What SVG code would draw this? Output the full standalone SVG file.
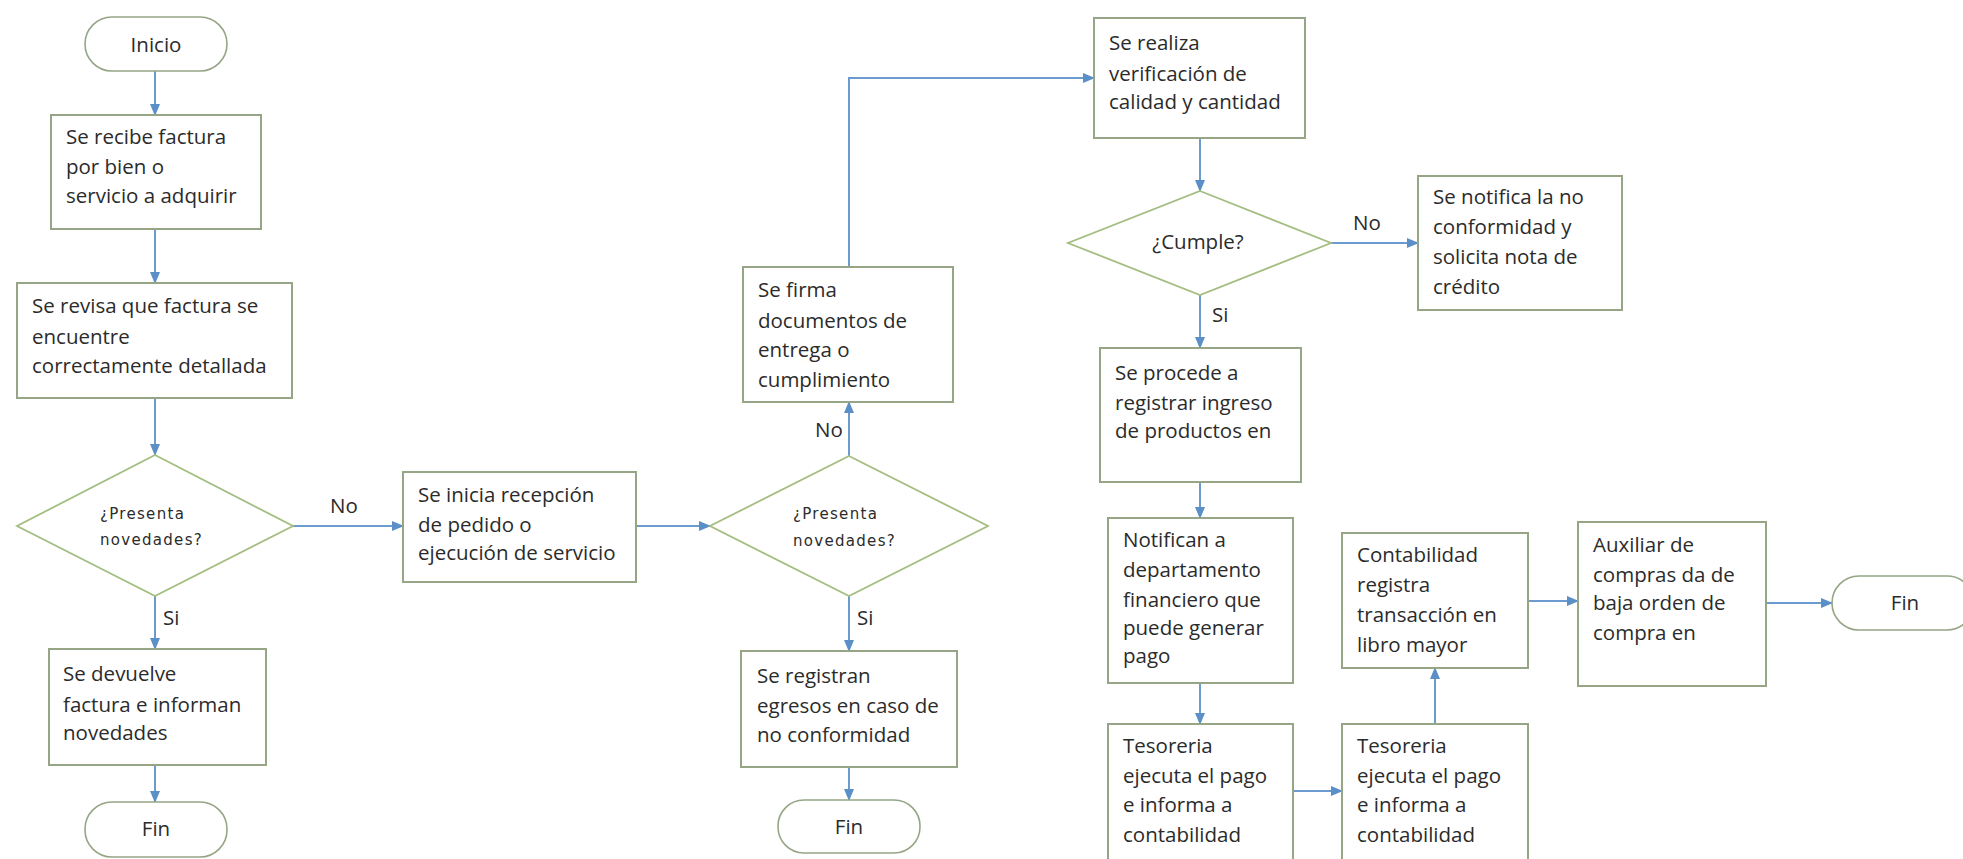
<svg xmlns="http://www.w3.org/2000/svg" width="1963" height="859" viewBox="0 0 1963 859">
<style>
.box{fill:#fff;stroke:#95a585;stroke-width:2}
.term{fill:#fff;stroke:#95a585;stroke-width:1.6}
.dia{fill:#fff;stroke:#a4bd80;stroke-width:1.8}
.t{font-family:"Open Sans","Noto Sans","Liberation Sans",sans-serif;font-size:20.5px;fill:#2b2b2b}
.c{text-anchor:middle}
.d{font-family:"DejaVu Sans","Liberation Sans",sans-serif;font-size:15px;letter-spacing:1.3px;fill:#2b2b2b}
.ln{fill:none;stroke:#6b9bcf;stroke-width:2}
</style>
<defs>
<marker id="ah" markerUnits="userSpaceOnUse" markerWidth="12" markerHeight="10" refX="11" refY="5" orient="auto">
<path d="M0,0 L12,5 L0,10 Z" fill="#5b8fc7"/>
</marker>
</defs>
<rect width="1963" height="859" fill="#fff"/>
<g id="connectors">
<path class="ln" marker-end="url(#ah)" d="M155,71 V115"/>
<path class="ln" marker-end="url(#ah)" d="M155,229 V283"/>
<path class="ln" marker-end="url(#ah)" d="M155,398 V455"/>
<path class="ln" marker-end="url(#ah)" d="M293,526 H403"/>
<path class="ln" marker-end="url(#ah)" d="M155,596 V649"/>
<path class="ln" marker-end="url(#ah)" d="M155,765 V802"/>
<path class="ln" marker-end="url(#ah)" d="M636,526 H710"/>
<path class="ln" marker-end="url(#ah)" d="M849,456 V402"/>
<path class="ln" marker-end="url(#ah)" d="M849,596 V651"/>
<path class="ln" marker-end="url(#ah)" d="M849,767 V800"/>
<path class="ln" marker-end="url(#ah)" d="M849,267 V78 H1094"/>
<path class="ln" marker-end="url(#ah)" d="M1200,138 V191"/>
<path class="ln" marker-end="url(#ah)" d="M1331,243 H1418"/>
<path class="ln" marker-end="url(#ah)" d="M1200,295 V348"/>
<path class="ln" marker-end="url(#ah)" d="M1200,482 V518"/>
<path class="ln" marker-end="url(#ah)" d="M1200,683 V724"/>
<path class="ln" marker-end="url(#ah)" d="M1293,791 H1342"/>
<path class="ln" marker-end="url(#ah)" d="M1435,724 V668"/>
<path class="ln" marker-end="url(#ah)" d="M1528,601 H1578"/>
<path class="ln" marker-end="url(#ah)" d="M1766,603 H1832"/>
<text class="t" x="330" y="513">No</text>
<text class="t" x="163" y="625">Si</text>
<text class="t" x="815" y="437">No</text>
<text class="t" x="857" y="625">Si</text>
<text class="t" x="1353" y="230">No</text>
<text class="t" x="1212" y="322">Si</text>
</g>
<g id="inicio">
<rect class="term" x="85" y="17" width="142" height="54" rx="27"/>
<text class="t c" x="156" y="52">Inicio</text>
</g>
<g id="recibe-factura">
<rect class="box" x="51" y="115" width="210" height="114"/>
<text class="t" x="66" y="144">Se recibe factura</text>
<text class="t" x="66" y="174">por bien o</text>
<text class="t" x="66" y="203">servicio a adquirir</text>
</g>
<g id="revisa-factura">
<rect class="box" x="17" y="283" width="275" height="115"/>
<text class="t" x="32" y="313">Se revisa que factura se</text>
<text class="t" x="32" y="344">encuentre</text>
<text class="t" x="32" y="373">correctamente detallada</text>
</g>
<g id="presenta-1">
<path class="dia" d="M155,455 L293,526 L155,596 L17,526 Z"/>
<text class="d" x="100" y="519">¿Presenta</text>
<text class="d" x="100" y="545">novedades?</text>
</g>
<g id="devuelve">
<rect class="box" x="49" y="649" width="217" height="116"/>
<text class="t" x="63" y="681">Se devuelve</text>
<text class="t" x="63" y="712">factura e informan</text>
<text class="t" x="63" y="740">novedades</text>
</g>
<g id="fin-1">
<rect class="term" x="85" y="802" width="142" height="55" rx="27"/>
<text class="t c" x="156" y="836">Fin</text>
</g>
<g id="inicia-recepcion">
<rect class="box" x="403" y="472" width="233" height="110"/>
<text class="t" x="418" y="502">Se inicia recepción</text>
<text class="t" x="418" y="532">de pedido o</text>
<text class="t" x="418" y="560">ejecución de servicio</text>
</g>
<g id="presenta-2">
<path class="dia" d="M849,456 L988,526 L849,596 L710,526 Z"/>
<text class="d" x="793" y="519">¿Presenta</text>
<text class="d" x="793" y="546">novedades?</text>
</g>
<g id="registran-egresos">
<rect class="box" x="741" y="651" width="216" height="116"/>
<text class="t" x="757" y="683">Se registran</text>
<text class="t" x="757" y="713">egresos en caso de</text>
<text class="t" x="757" y="742">no conformidad</text>
</g>
<g id="fin-2">
<rect class="term" x="778" y="800" width="142" height="53" rx="26"/>
<text class="t c" x="849" y="834">Fin</text>
</g>
<g id="firma-documentos">
<rect class="box" x="743" y="267" width="210" height="135"/>
<text class="t" x="758" y="297">Se firma</text>
<text class="t" x="758" y="328">documentos de</text>
<text class="t" x="758" y="357">entrega o</text>
<text class="t" x="758" y="387">cumplimiento</text>
</g>
<g id="verificacion">
<rect class="box" x="1094" y="18" width="211" height="120"/>
<text class="t" x="1109" y="50">Se realiza</text>
<text class="t" x="1109" y="81">verificación de</text>
<text class="t" x="1109" y="109">calidad y cantidad</text>
</g>
<g id="cumple">
<path class="dia" d="M1200,191 L1331,243 L1200,295 L1068,243 Z"/>
<text class="t c" x="1198" y="249">¿Cumple?</text>
</g>
<g id="notifica-no-conformidad">
<rect class="box" x="1418" y="176" width="204" height="134"/>
<text class="t" x="1433" y="204">Se notifica la no</text>
<text class="t" x="1433" y="234">conformidad y</text>
<text class="t" x="1433" y="264">solicita nota de</text>
<text class="t" x="1433" y="294">crédito</text>
</g>
<g id="registrar-ingreso">
<rect class="box" x="1100" y="348" width="201" height="134"/>
<text class="t" x="1115" y="380">Se procede a</text>
<text class="t" x="1115" y="410">registrar ingreso</text>
<text class="t" x="1115" y="438">de productos en</text>
</g>
<g id="notifican">
<rect class="box" x="1108" y="518" width="185" height="165"/>
<text class="t" x="1123" y="547">Notifican a</text>
<text class="t" x="1123" y="577">departamento</text>
<text class="t" x="1123" y="607">financiero que</text>
<text class="t" x="1123" y="635">puede generar</text>
<text class="t" x="1123" y="663">pago</text>
</g>
<g id="tesoreria-1">
<rect class="box" x="1108" y="724" width="185" height="150"/>
<text class="t" x="1123" y="753">Tesoreria</text>
<text class="t" x="1123" y="783">ejecuta el pago</text>
<text class="t" x="1123" y="812">e informa a</text>
<text class="t" x="1123" y="842">contabilidad</text>
</g>
<g id="tesoreria-2">
<rect class="box" x="1342" y="724" width="186" height="150"/>
<text class="t" x="1357" y="753">Tesoreria</text>
<text class="t" x="1357" y="783">ejecuta el pago</text>
<text class="t" x="1357" y="812">e informa a</text>
<text class="t" x="1357" y="842">contabilidad</text>
</g>
<g id="contabilidad">
<rect class="box" x="1342" y="533" width="186" height="135"/>
<text class="t" x="1357" y="562">Contabilidad</text>
<text class="t" x="1357" y="592">registra</text>
<text class="t" x="1357" y="622">transacción en</text>
<text class="t" x="1357" y="652">libro mayor</text>
</g>
<g id="auxiliar">
<rect class="box" x="1578" y="522" width="188" height="164"/>
<text class="t" x="1593" y="552">Auxiliar de</text>
<text class="t" x="1593" y="582">compras da de</text>
<text class="t" x="1593" y="610">baja orden de</text>
<text class="t" x="1593" y="640">compra en</text>
</g>
<g id="fin-3">
<rect class="term" x="1832" y="576" width="142" height="54" rx="27"/>
<text class="t c" x="1905" y="610">Fin</text>
</g>
</svg>
